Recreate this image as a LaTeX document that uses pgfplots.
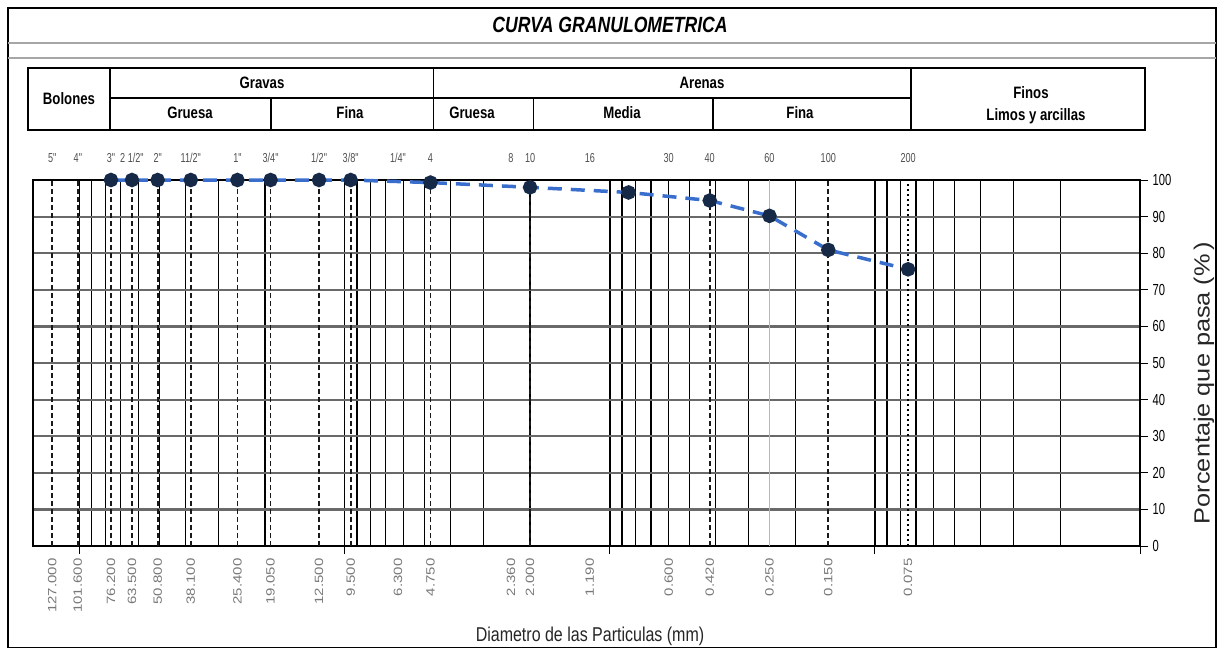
\documentclass[border=0pt]{standalone}
\usepackage{fontspec}
\setmainfont{Liberation Sans}
\newfontfamily\narrowfont[FakeStretch=0.8]{Liberation Sans}
\newfontfamily\narrowerfont[FakeStretch=0.7]{Liberation Sans}
\newfontfamily\widefont[FakeStretch=1.25]{Liberation Sans}
\newfontfamily\ylabfont[FakeStretch=1.15]{Liberation Sans}
\usepackage{pgfplots}
\usepackage{pgfplotstable}
\pgfplotsset{compat=1.18}
\definecolor{curveblue}{RGB}{58,110,205}
\definecolor{marknavy}{RGB}{22,42,72}
\definecolor{hgrid}{RGB}{105,105,105}
\definecolor{lightline}{RGB}{150,190,230}
\definecolor{labgray}{RGB}{120,120,120}
\definecolor{topgray}{RGB}{80,80,80}

\pgfplotstableread{
d p
76.2 100
63.5 100
50.8 100
38.1 100
25.4 100
19.05 100
12.5 100
9.5 100
4.75 99.3
2.0 98.0
0.85 96.6
0.42 94.4
0.25 90.2
0.15 80.9
0.075 75.6
}\gran

\begin{document}
\begin{tikzpicture}
\useasboundingbox (0pt,0pt) rectangle (1219pt,-649pt);
\begin{scope}[x=1pt,y=-1pt]
 \draw[line width=1.5pt] (8,8) rectangle (1216,647.5);
 \draw[line width=2pt, gray!70] (8,43) -- (1216,43);
 \draw[line width=2pt, gray!70] (8,58) -- (1216,58);
 \node[font=\narrowfont\bfseries\itshape\fontsize{22}{24}\selectfont] at (610,25) {CURVA GRANULOMETRICA};
 % header table
 \draw[line width=1.5pt] (28,68) rectangle (1145,130);
 \draw[line width=1.5pt] (110,68) -- (110,130);
 \draw[line width=1.5pt] (433.5,68) -- (433.5,130);
 \draw[line width=1.5pt] (911,68) -- (911,130);
 \draw[line width=1.5pt] (110,98) -- (911,98);
 \draw[line width=1.5pt] (271,98) -- (271,130);
 \draw[line width=1.5pt] (533.5,98) -- (533.5,130);
 \draw[line width=1.5pt] (713,98) -- (713,130);
 \begin{scope}[every node/.style={font=\narrowfont\bfseries\fontsize{16.5}{18}\selectfont, inner sep=0pt}]
  \node at (69,99) {Bolones};
  \node at (262,83) {Gravas};
  \node at (190,113) {Gruesa};
  \node at (350,113) {Fina};
  \node at (702,83) {Arenas};
  \node at (472,113) {Gruesa};
  \node at (622,113) {Media};
  \node at (800,113) {Fina};
  \node at (1031,93) {Finos};
  \node at (1036,116) {Limos y arcillas};
 \end{scope}
 \node[rotate=90, font=\ylabfont\fontsize{22}{24}\selectfont, text=black!85] at (1204,383) {Porcentaje que pasa (\%\,)};
 \node[font=\narrowfont\fontsize{20}{22}\selectfont, text=black!85] at (590,636) {Diametro de las Particulas (mm)};
\end{scope}

\begin{axis}[
 at={(33pt,-546pt)}, anchor=south west,
 scale only axis, width=1107pt, height=366pt,
 xmode=log, x dir=reverse, xmin=0.01, xmax=150,
 ymin=0, ymax=100, clip=false,
 xtick={0.01,0.1,1,10,100}, xticklabels={},
 minor xtick={0.02,0.03,0.04,0.05,0.06,0.07,0.08,0.09,0.2,0.3,0.4,0.5,0.6,0.7,0.8,0.9,2,3,4,5,6,7,8,9,20,30,40,50,60,70,80,90},
 extra x ticks={127,101.6,76.2,63.5,50.8,38.1,25.4,19.05,12.5,9.5,6.3,4.75,2.36,2.0,1.19,0.6,0.42,0.25,0.15,0.075},
 extra x tick labels={127.000,101.600,76.200,63.500,50.800,38.100,25.400,19.050,12.500,9.500,6.300,4.750,2.360,2.000,1.190,0.600,0.420,0.250,0.150,0.075},
 extra x tick style={grid=none, major tick length=0pt,
   tick label style={rotate=90, anchor=east, xshift=-9pt, font=\widefont\fontsize{12}{13}\selectfont, text=labgray}},
 xmajorgrids, xminorgrids, ymajorgrids,
 ytick={0,10,...,100},
 ytick pos=right, yticklabel pos=right, xtick pos=left,
 tick align=outside, major tick length=8pt, minor tick length=0pt,
 tick style={black, line width=1pt},
 axis line style={line width=1.6pt, black},
 major x grid style={black, line width=1.3pt},
 minor x grid style={black, line width=1.3pt},
 major y grid style={hgrid, line width=2.2pt},
 yticklabel style={font=\narrowerfont\fontsize{16}{18}\selectfont, xshift=1pt},
 /pgf/number format/assume math mode=true,
]
\pgfplotsinvokeforeach{127,101.6,76.2,63.5,50.8,38.1,25.4,19.05,12.5,9.5,4.75,2.0,0.42,0.15}{
 \addplot[black!90, line width=1.8pt, dash pattern=on 5pt off 3pt] coordinates {(#1,0) (#1,100)};
}
\addplot[black, line width=2.4pt, dash pattern=on 2.5pt off 2.5pt] coordinates {(0.075,0) (0.075,100)};
\addplot[lightline, line width=1.5pt] coordinates {(0.25,0) (0.25,100)};
\addplot[curveblue, line width=3.5pt, dash pattern=on 14pt off 9pt, mark=*, mark size=5.5pt,
  mark options={solid, fill=marknavy, draw=marknavy}] table[x=d,y=p]{\gran};
\begin{scope}[every node/.style={font=\narrowerfont\fontsize{13}{14}\selectfont, text=topgray, anchor=base, yshift=18pt, inner sep=0pt}]
 \node at (axis cs:127,100) {5"};
 \node at (axis cs:101.6,100) {4"};
 \node at (axis cs:76.2,100) {3"};
 \node at (axis cs:63.5,100) {2 1/2"};
 \node at (axis cs:50.8,100) {2"};
 \node at (axis cs:38.1,100) {11/2"};
 \node at (axis cs:25.4,100) {1"};
 \node at (axis cs:19.05,100) {3/4"};
 \node at (axis cs:12.5,100) {1/2"};
 \node at (axis cs:9.5,100) {3/8"};
 \node at (axis cs:6.3,100) {1/4"};
 \node at (axis cs:4.75,100) {4};
 \node at (axis cs:2.36,100) {8};
 \node at (axis cs:2.0,100) {10};
 \node at (axis cs:1.19,100) {16};
 \node at (axis cs:0.6,100) {30};
 \node at (axis cs:0.42,100) {40};
 \node at (axis cs:0.25,100) {60};
 \node at (axis cs:0.15,100) {100};
 \node at (axis cs:0.075,100) {200};
\end{scope}
\end{axis}
\end{tikzpicture}
\end{document}
